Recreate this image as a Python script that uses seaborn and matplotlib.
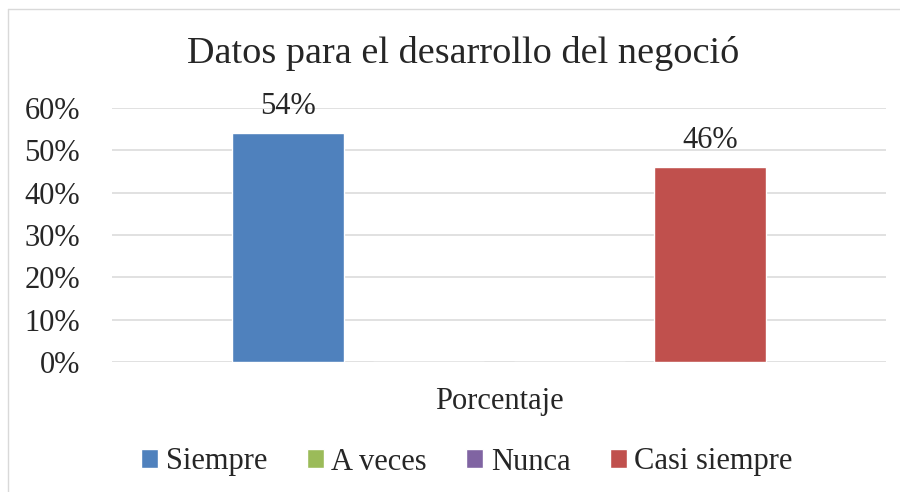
import seaborn as sns
import pandas as pd
import matplotlib.pyplot as plt
from matplotlib.ticker import PercentFormatter
from matplotlib.lines import Line2D

# datos
categoria = ['Porcentaje']
series = ['Siempre', 'A veces', 'Nunca', 'Casi siempre']
valores = [0.54, 0.0, 0.0, 0.46]
colores = ['#4F81BD', '#9BBB59', '#8064A2', '#C0504D']
yticks = [0.0, 0.1, 0.2, 0.3, 0.4, 0.5, 0.6]
titulo = 'Datos para el desarrollo del negoció'

data = pd.DataFrame({
    'cat': categoria * len(series),
    'serie': series,
    'val': valores,
})

sns.set_style('white')
plt.rcParams['font.family'] = ['Liberation Serif', 'DejaVu Serif']

W, H = 900, 492
fig = plt.figure(figsize=(W / 100, H / 100), dpi=100)
ax = fig.add_axes([112 / W, 1 - 362 / H, (886 - 112) / W, (362 - 108) / H])

sns.barplot(data=data, x='cat', y='val', hue='serie', hue_order=series,
            palette=colores, saturation=1, width=0.727, gap=0.21, ax=ax)

ax.set_xlim(-0.5, 0.5)
ax.set_ylim(0, 0.6)
ax.set_yticks(yticks)
ax.yaxis.set_major_formatter(PercentFormatter(1, decimals=0))
ax.tick_params(axis='y', labelsize=22, pad=23, length=0)
ax.tick_params(axis='x', labelsize=22, pad=18, length=0)
ax.grid(axis='y', color='#d9d9d9', linewidth=1.1)
ax.set_axisbelow(True)
sns.despine(ax=ax, left=True, bottom=True)
ax.set_xlabel('')
ax.set_ylabel('')

# etiquetas de datos, solo para barras con valor
for cont in ax.containers:
    labels = [f'{b.get_height():.0%}' if b.get_height() > 0 else '' for b in cont]
    ax.bar_label(cont, labels=labels, fontsize=22, padding=9)

sns.move_legend(ax, 'center', bbox_to_anchor=(467 / W, 1 - 462 / H),
                bbox_transform=fig.transFigure, ncol=4, frameon=False,
                title=None, fontsize=22, handlelength=0.56, handleheight=0.56,
                handletextpad=0.25, columnspacing=1.28)

fig.text(463.5 / W, 1 - 63 / H, titulo, ha='center', va='baseline', fontsize=27.5)

# borde del area del grafico
fig.add_artist(Line2D([8 / W, 1], [1 - 9 / H, 1 - 9 / H], color='#d9d9d9',
                      linewidth=1, transform=fig.transFigure))
fig.add_artist(Line2D([8 / W, 8 / W], [1 - 9 / H, 0], color='#d9d9d9',
                      linewidth=1, transform=fig.transFigure))

fig.savefig('out.png', dpi=100)
